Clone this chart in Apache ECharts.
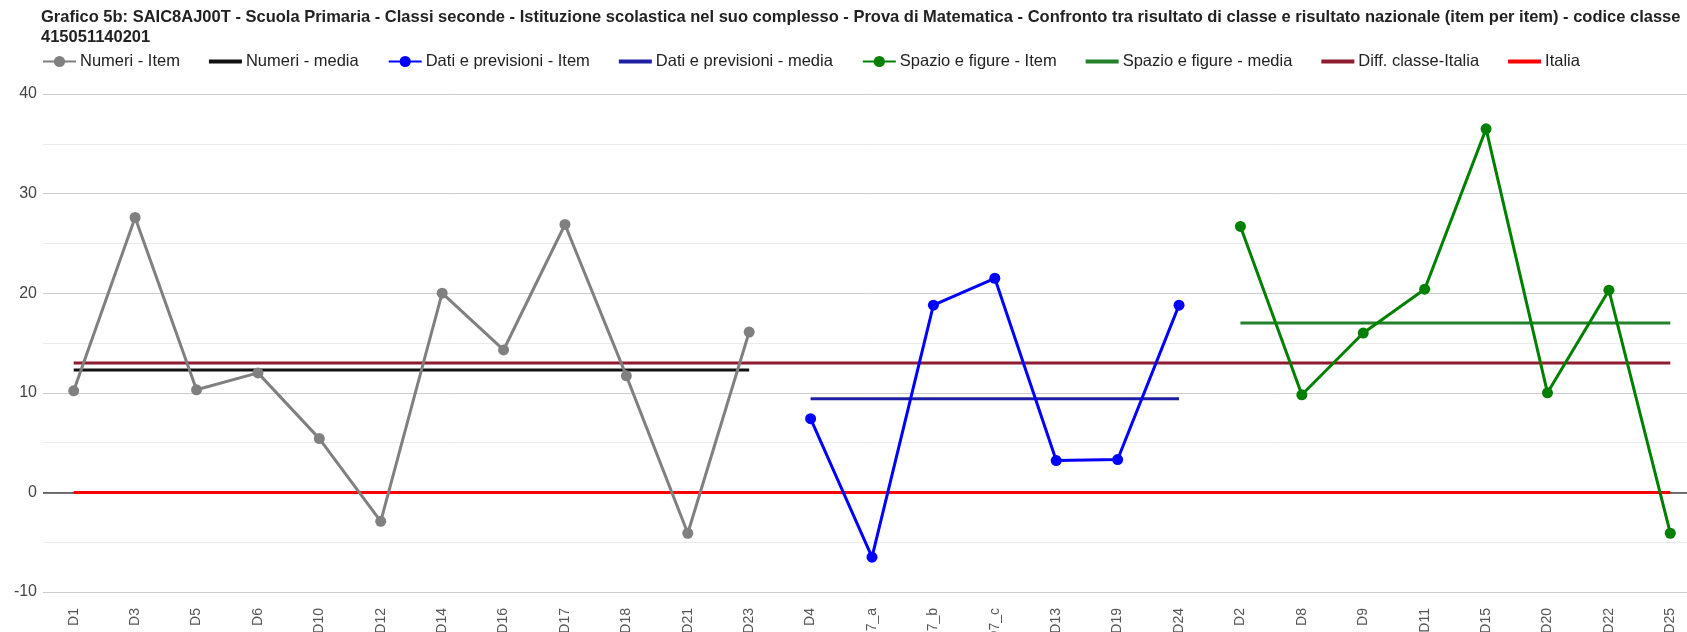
<!DOCTYPE html>
<html>
<head>
<meta charset="utf-8">
<script src="https://cdn.jsdelivr.net/npm/echarts@6/dist/echarts.min.js"></script>
<style>
  html, body { margin: 0; padding: 0; background: #fff; }
  #chart { width: 1687px; height: 632px; }
</style>
</head>
<body>
<div id="chart"></div>
<script>
// categorie (item) per ambito
var catNumeri = ['D1', 'D3', 'D5', 'D6', 'D10', 'D12', 'D14', 'D16', 'D17', 'D18', 'D21', 'D23'];
var catDati = ['D4', 'D7_a', 'D7_b', 'D7_c', 'D13', 'D19', 'D24'];
var catSpazio = ['D2', 'D8', 'D9', 'D11', 'D15', 'D20', 'D22', 'D25'];

// valori
var numeriItem = [10.2, 27.6, 10.3, 12.0, 5.4, -2.9, 20.0, 14.3, 26.9, 11.7, -4.1, 16.1];
var numeriMedia = [12.3, 12.3, 12.3, 12.3, 12.3, 12.3, 12.3, 12.3, 12.3, 12.3, 12.3, 12.3];
var datiItem = [7.4, -6.5, 18.8, 21.5, 3.2, 3.3, 18.8];
var datiMedia = [9.4, 9.4, 9.4, 9.4, 9.4, 9.4, 9.4];
var spazioItem = [26.7, 9.8, 16.0, 20.4, 36.5, 10.0, 20.3, -4.1];
var spazioMedia = [17.0, 17.0, 17.0, 17.0, 17.0, 17.0, 17.0, 17.0];
var diffClasseItalia = [13.0, 13.0, 13.0, 13.0, 13.0, 13.0, 13.0, 13.0, 13.0, 13.0, 13.0, 13.0, 13.0, 13.0,
    13.0, 13.0, 13.0, 13.0, 13.0, 13.0, 13.0, 13.0, 13.0, 13.0, 13.0, 13.0, 13.0];
var italia = [0, 0, 0, 0, 0, 0, 0, 0, 0, 0, 0, 0, 0, 0, 0, 0, 0, 0, 0, 0, 0, 0, 0, 0, 0, 0, 0];

var yTicks = [-10, 0, 10, 20, 30, 40];

var categories = catNumeri.concat(catDati, catSpazio);

// mette i valori nella posizione giusta, null altrove
function place(offset, values) {
    var out = [];
    for (var i = 0; i < categories.length; i++) {
        var k = i - offset;
        out.push(k >= 0 && k < values.length ? values[k] : null);
    }
    return out;
}

var offNumeri = 0;
var offDati = catNumeri.length;
var offSpazio = catNumeri.length + catDati.length;

var font = "'Liberation Sans', Arial, sans-serif";
var barIcon = 'path://M0,0H33V4H0Z'; // icona legenda per le medie

function itemSeries(name, color, offset, values) {
    return {
        name: name,
        type: 'line',
        data: place(offset, values),
        symbol: 'circle',
        symbolSize: 11,
        lineStyle: { width: 3, color: color },
        itemStyle: { color: color },
        z: 5
    };
}

function lineSeries(name, color, offset, values, z) {
    return {
        name: name,
        type: 'line',
        data: place(offset, values),
        showSymbol: false,
        symbol: 'none',
        lineStyle: { width: 3, color: color },
        itemStyle: { color: color },
        z: z
    };
}

var dom = document.getElementById('chart');
var myChart = echarts.init(dom);

var option = {
    animation: false,
    backgroundColor: '#fff',
    textStyle: { fontFamily: font },
    title: {
        text: 'Grafico 5b: SAIC8AJ00T - Scuola Primaria - Classi seconde - Istituzione scolastica nel suo complesso - Prova di Matematica - Confronto tra risultato di classe e risultato nazionale (item per item) - codice classe\n415051140201',
        left: 36,
        top: 3,
        textStyle: {
            fontFamily: font,
            fontSize: 16.5,
            fontWeight: 'bold',
            color: '#222',
            lineHeight: 19.5
        }
    },
    legend: {
        left: 37,
        top: 48,
        itemWidth: 33,
        itemHeight: 14,
        itemGap: 29,
        textStyle: { fontFamily: font, fontSize: 16.5, color: '#222', padding: [0, 0, 0, -1] },
        data: [
            { name: 'Numeri - Item' },
            { name: 'Numeri - media', icon: barIcon },
            { name: 'Dati e previsioni - Item' },
            { name: 'Dati e previsioni - media', icon: barIcon },
            { name: 'Spazio e figure - Item' },
            { name: 'Spazio e figure - media', icon: barIcon },
            { name: 'Diff. classe-Italia', icon: barIcon },
            { name: 'Italia', icon: barIcon }
        ]
    },
    grid: {
        left: 43,
        top: 94,
        width: 1658,
        bottom: 40,
        containLabel: false,
        outerBoundsMode: 'none'
    },
    xAxis: {
        type: 'category',
        data: categories,
        boundaryGap: true,
        axisLine: { show: false },
        axisTick: { show: false },
        axisLabel: {
            rotate: 90,
            interval: 0,
            margin: 16,
            fontSize: 14,
            color: '#555',
            fontFamily: font
        }
    },
    yAxis: {
        type: 'value',
        min: yTicks[0],
        max: yTicks[yTicks.length - 1],
        interval: 10,
        axisLine: { show: false },
        axisTick: { show: false },
        axisLabel: { fontSize: 16, color: '#444', margin: 6, fontFamily: font },
        splitLine: { lineStyle: { color: '#cccccc', width: 1 } },
        minorTick: { show: false, splitNumber: 2 },
        minorSplitLine: { show: true, lineStyle: { color: '#ebebeb', width: 1 } }
    },
    series: [
        itemSeries('Numeri - Item', '#808080', offNumeri, numeriItem),
        lineSeries('Numeri - media', '#111111', offNumeri, numeriMedia, 3),
        itemSeries('Dati e previsioni - Item', '#0000ff', offDati, datiItem),
        lineSeries('Dati e previsioni - media', '#1f1fa3', offDati, datiMedia, 3),
        itemSeries('Spazio e figure - Item', '#008000', offSpazio, spazioItem),
        lineSeries('Spazio e figure - media', '#24802a', offSpazio, spazioMedia, 3),
        lineSeries('Diff. classe-Italia', '#8e1b2e', 0, diffClasseItalia, 2),
        {
            name: 'Italia',
            type: 'line',
            data: italia,
            symbol: 'none',
            lineStyle: { width: 3, color: '#ff0000' },
            itemStyle: { color: '#ff0000' },
            z: 2,
            // linea dello zero (base dell'asse)
            markLine: {
                silent: true,
                symbol: 'none',
                label: { show: false },
                lineStyle: { color: '#444', width: 1.5, type: 'solid' },
                data: [{ yAxis: 0 }],
                z: 1
            }
        }
    ]
};

if (option && typeof option === 'object') {
    myChart.setOption(option);
}
</script>
</body>
</html>
